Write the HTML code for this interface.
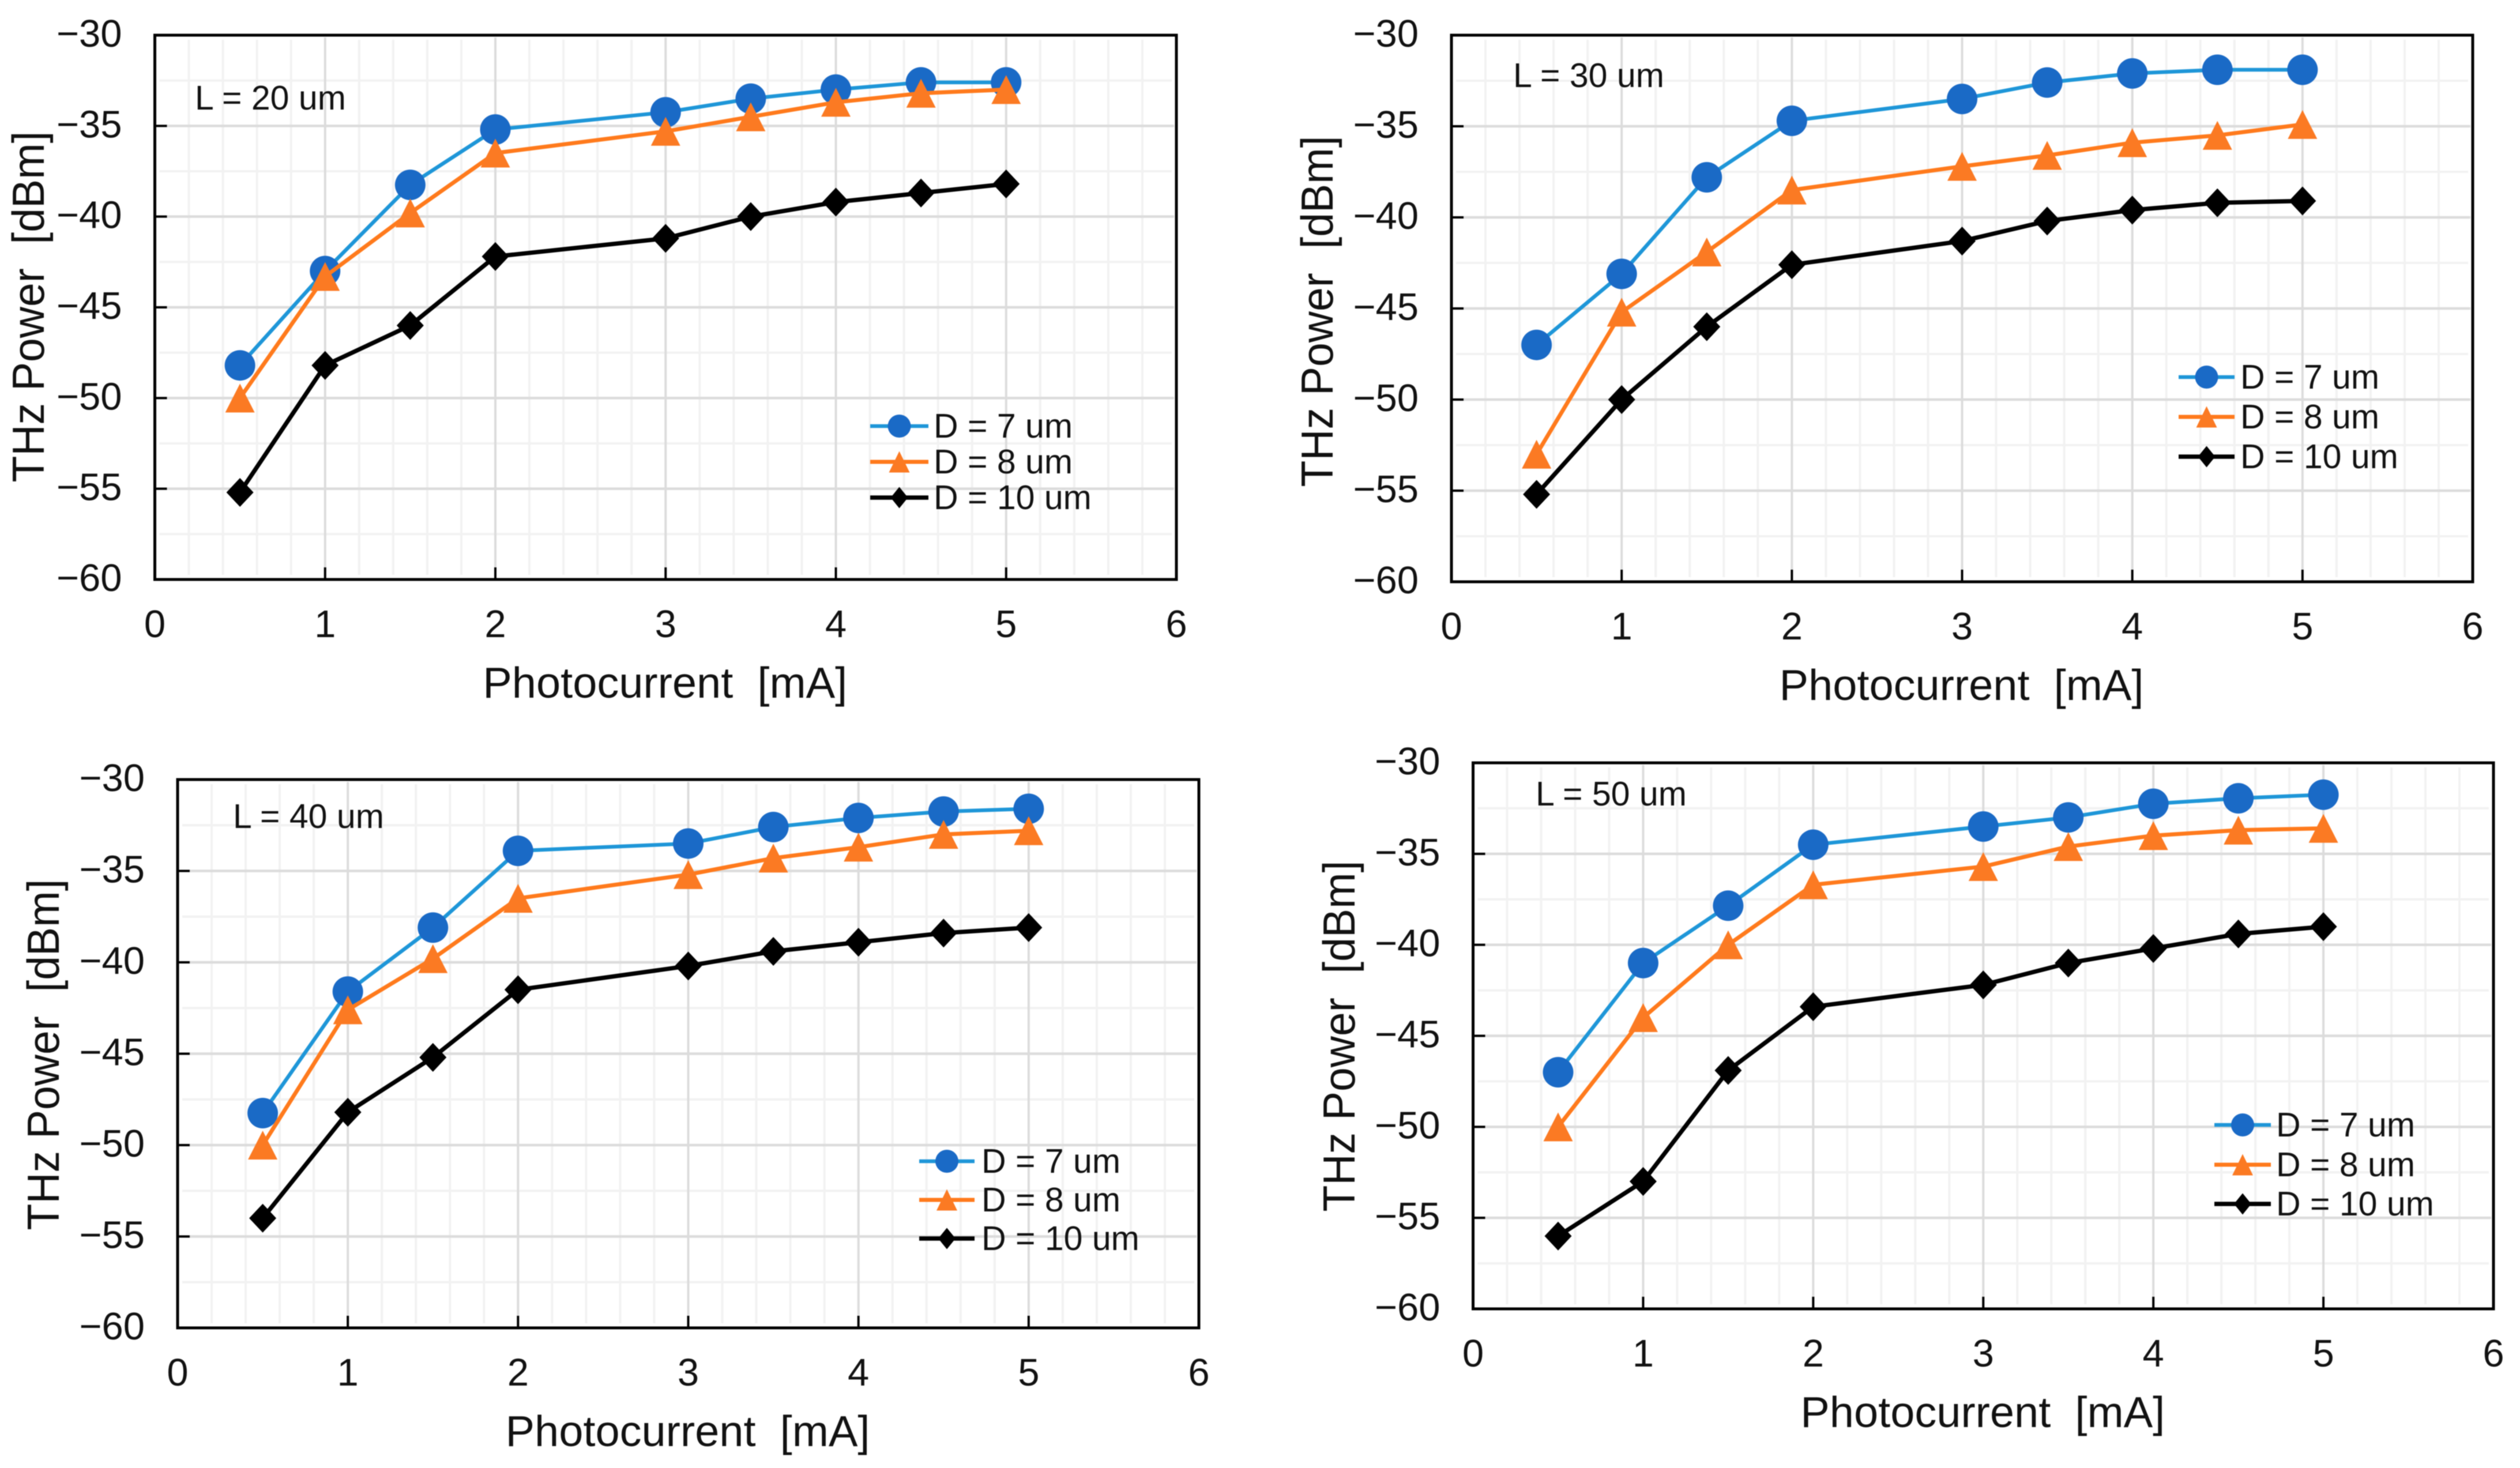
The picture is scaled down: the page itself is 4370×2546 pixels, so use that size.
<!DOCTYPE html>
<html lang="en">
<head>
<meta charset="utf-8">
<title>THz Power vs Photocurrent</title>
<style>
html,body{margin:0;padding:0;background:#fff;}
#figure{display:block;width:4370px;height:2546px;background:#fff;font-family:"Liberation Sans",sans-serif;fill:#111;filter:blur(0.7px);}
</style>
</head>
<body>
<svg id="figure" xmlns="http://www.w3.org/2000/svg" width="4370" height="2546" viewBox="0 0 4370 2546"></svg>
<script>
// Shared axis data
const photocurrentValues = [0.5, 1, 1.5, 2, 3, 3.5, 4, 4.5, 5];
const xTickLabels = [0, 1, 2, 3, 4, 5, 6];
const yTickLabels = [-30, -35, -40, -45, -50, -55, -60];
const seriesNames = ['D = 7 um', 'D = 8 um', 'D = 10 um'];

// L = 20 um
const l20D7 = [-48.2, -43.0, -38.25, -35.2, -34.25, -33.5, -33.0, -32.6, -32.6];
const l20D8 = [-50.0, -43.3, -39.8, -36.5, -35.3, -34.5, -33.7, -33.2, -33.0];
const l20D10 = [-55.2, -48.2, -46.0, -42.2, -41.2, -40.0, -39.2, -38.7, -38.2];
// L = 30 um
const l30D7 = [-47.0, -43.1, -37.8, -34.7, -33.5, -32.6, -32.1, -31.9, -31.9];
const l30D8 = [-53.0, -45.2, -41.9, -38.5, -37.2, -36.6, -35.9, -35.5, -34.9];
const l30D10 = [-55.2, -50.0, -46.0, -42.6, -41.3, -40.2, -39.6, -39.2, -39.1];
// L = 40 um
const l40D7 = [-48.25, -41.6, -38.1, -33.9, -33.5, -32.6, -32.1, -31.75, -31.6];
const l40D8 = [-50.0, -42.6, -39.8, -36.5, -35.2, -34.3, -33.7, -33.0, -32.8];
const l40D10 = [-54.0, -48.2, -45.2, -41.5, -40.2, -39.4, -38.9, -38.4, -38.1];
// L = 50 um
const l50D7 = [-47.0, -41.0, -37.85, -34.5, -33.5, -33.0, -32.25, -31.95, -31.75];
const l50D8 = [-50.0, -44.0, -40.0, -36.7, -35.7, -34.6, -34.0, -33.7, -33.6];
const l50D10 = [-56.0, -53.0, -46.9, -43.4, -42.2, -41.0, -40.2, -39.4, -39.0];

const panels = [
  {id:'l20', label:'L = 20 um', series:[l20D7,l20D8,l20D10],
   left:268.5, right:2040, top:61, bottom:1005,
   labelX:338, labelY:190, yTitleX:76, yTitleCy:532,
   legendX1:1509, legendX2:1610, legendTextX:1619, legendRows:[739,801,863]},
  {id:'l30', label:'L = 30 um', series:[l30D7,l30D8,l30D10],
   left:2517, right:4288, top:61, bottom:1009,
   labelX:2624, labelY:151, yTitleX:2311, yTitleCy:540,
   legendX1:3778, legendX2:3875, legendTextX:3885, legendRows:[654,723,792]},
  {id:'l40', label:'L = 40 um', series:[l40D7,l40D8,l40D10],
   left:308, right:2079, top:1352, bottom:2303,
   labelX:404, labelY:1436, yTitleX:102, yTitleCy:1829,
   legendX1:1594, legendX2:1690, legendTextX:1702, legendRows:[2014,2081,2148]},
  {id:'l50', label:'L = 50 um', series:[l50D7,l50D8,l50D10],
   left:2554.5, right:4324, top:1323, bottom:2270,
   labelX:2663, labelY:1397, yTitleX:2349, yTitleCy:1797,
   legendX1:3840, legendX2:3938, legendTextX:3947, legendRows:[1951,2020,2088]}
];

const SVG_NS = 'http://www.w3.org/2000/svg';
const root = document.getElementById('figure');
const lineColors = ['#1e96d8', '#ff7a1c', '#000000'];
const markerColors = ['#1a6ac6', '#fb7a23', '#000000'];
const lineWidths = [6.5, 7, 7.5];
const seriesKeys = ['d7', 'd8', 'd10'];

function make(tag, parent, attrs) {
  const el = document.createElementNS(SVG_NS, tag);
  for (const k in attrs) el.setAttribute(k, attrs[k]);
  parent.appendChild(el);
  return el;
}

function markerEl(kind, parent, cx, cy, big) {
  if (kind === 0) {
    return make('circle', parent, {cx:cx, cy:cy, r: big ? 26.5 : 20, fill:markerColors[0]});
  }
  if (kind === 1) {
    const w = big ? 25.5 : 18, h = big ? 25 : 18.5;
    return make('polygon', parent, {points:[cx, cy-h, cx+w, cy+h, cx-w, cy+h].join(' '), fill:markerColors[1]});
  }
  const w = big ? 23.5 : 15, h = big ? 25 : 18.5;
  return make('polygon', parent, {points:[cx, cy-h, cx+w, cy, cx, cy+h, cx-w, cy].join(' '), fill:markerColors[2]});
}

panels.forEach(function (p) {
  const xScale = function (v) { return p.left + (v - 0) / 6 * (p.right - p.left); };
  const yScale = function (v) { return p.top + (-30 - v) / 30 * (p.bottom - p.top); };

  const g = make('g', root, {});
  
  

  // Minor gridlines
  const minor = make('g', g, {stroke:'#f2f2f2', 'stroke-width':4});
  
  
  for (let i = 1; i < 30; i++) {
    if (i % 5 === 0) continue;
    const xv = i * 0.2;
    make('line', minor, {x1:xScale(xv), x2:xScale(xv), y1:p.top + 8, y2:p.bottom - 8});
  }
  for (let i = 1; i < 12; i += 2) {
    const yv = -30 - i * 2.5;
    make('line', minor, {x1:p.left + 8, x2:p.right - 8, y1:yScale(yv), y2:yScale(yv)});
  }

  // Major gridlines
  const major = make('g', g, {stroke:'#dcdcdc'});
  
  
  xTickLabels.slice(1, -1).forEach(function (t) {
    make('line', major, {x1:xScale(t), x2:xScale(t), y1:p.top + 4, y2:p.bottom - 4, 'stroke-width':4});
  });
  yTickLabels.slice(1, -1).forEach(function (t) {
    make('line', major, {x1:p.left + 4, x2:p.right - 4, y1:yScale(t), y2:yScale(t), 'stroke-width':4.5});
  });

  // Ticks
  const ticks = make('g', g, {stroke:'#000', 'stroke-width':4});
  
  
  xTickLabels.slice(1, -1).forEach(function (t) {
    make('line', ticks, {x1:xScale(t), x2:xScale(t), y1:p.bottom - 21, y2:p.bottom});
  });
  yTickLabels.slice(1, -1).forEach(function (t) {
    make('line', ticks, {x1:p.left, x2:p.left + 21, y1:yScale(t), y2:yScale(t)});
  });

  // Plot frame
  const frame = make('rect', g, {x:p.left, y:p.top, width:p.right - p.left, height:p.bottom - p.top, fill:'none', stroke:'#000', 'stroke-width':5});
  
  

  // Tick labels
  const xLabels = make('g', g, {'font-size':67, 'text-anchor':'middle'});
  
  
  xTickLabels.forEach(function (t) {
    const el = make('text', xLabels, {x:xScale(t), y:p.bottom + 100});
    el.textContent = String(t);
  });
  const yLabels = make('g', g, {'font-size':67, 'text-anchor':'end'});
  
  
  yTickLabels.forEach(function (t) {
    const el = make('text', yLabels, {x:p.left - 57, y:yScale(t) + 20});
    el.textContent = '\u2212' + Math.abs(t);
  });

  // Axis titles
  const xTitle = make('text', g, {x:(p.left + p.right) / 2 - 1, y:p.bottom + 205, 'font-size':75, 'text-anchor':'middle', textLength:632, lengthAdjust:'spacingAndGlyphs'});
  
  
  xTitle.style.whiteSpace = 'pre';
  xTitle.textContent = 'Photocurrent  [mA]';

  const yTitle = make('text', g, {x:0, y:0, 'font-size':78, 'text-anchor':'middle', textLength:609, lengthAdjust:'spacingAndGlyphs',
    transform:'translate(' + p.yTitleX + ' ' + p.yTitleCy + ') rotate(-90)'});
  
  
  yTitle.style.whiteSpace = 'pre';
  yTitle.textContent = 'THz Power  [dBm]';

  // Series
  p.series.forEach(function (values, s) {
    const sg = make('g', g, {});
    
    
    const pts = values.map(function (v, i) { return xScale(photocurrentValues[i]) + ',' + yScale(v); }).join(' ');
    const line = make('polyline', sg, {points:pts, fill:'none', stroke:lineColors[s], 'stroke-width':lineWidths[s], 'stroke-linejoin':'round'});
    
    
    values.forEach(function (v, i) {
      const m = markerEl(s, sg, xScale(photocurrentValues[i]), yScale(v), true);
      
      
    });
  });

  // Panel label
  const label = make('text', g, {x:p.labelX, y:p.labelY, 'font-size':59});
  
  
  label.textContent = p.label;

  // Legend
  const legend = make('g', g, {});
  
  
  seriesNames.forEach(function (name, s) {
    const y = p.legendRows[s];
    const entry = make('g', legend, {});
    
    
    make('line', entry, {x1:p.legendX1, x2:p.legendX2, y1:y, y2:y, stroke:lineColors[s], 'stroke-width':lineWidths[s]});
    markerEl(s, entry, (p.legendX1 + p.legendX2) / 2, y, false);
    const t = make('text', entry, {x:p.legendTextX, y:y + 20, 'font-size':59});
    t.textContent = name;
  });
});
</script>
</body>
</html>
